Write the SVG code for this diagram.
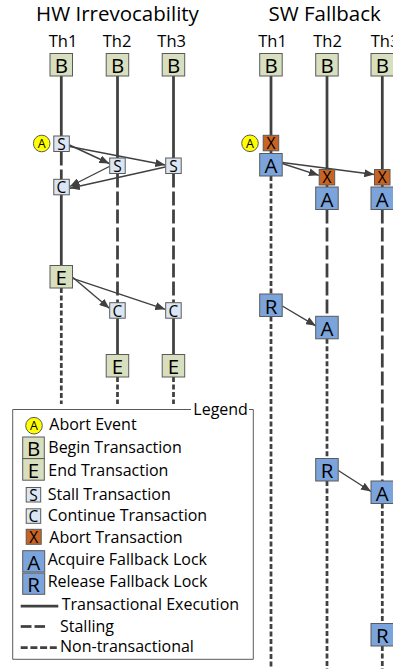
<svg xmlns="http://www.w3.org/2000/svg" width="393" height="669" viewBox="0 0 393 669">
  <defs>
    <marker id="ah" viewBox="0 0 10 8" refX="10" refY="4" markerWidth="10" markerHeight="8" markerUnits="userSpaceOnUse" orient="auto">
      <path d="M0,0 L10,4 L0,8 z" fill="#404040"/>
    </marker>
  </defs>
  <style>
    text { font-family: "Open Sans", "Liberation Sans", sans-serif; fill: #000; }
    .title { font-size: 20.5px; text-anchor: middle; }
    .th { font-size: 16.5px; text-anchor: middle; }
    .big { font-size: 20.5px; text-anchor: middle; }
    .small { font-size: 15.5px; text-anchor: middle; }
    .ev { font-size: 12.5px; text-anchor: middle; }
    .lg { font-size: 16px; }
    .ln { stroke: #404040; stroke-width: 2.75; fill: none; }
    .stall { stroke-dasharray: 14 4; }
    .nontx { stroke-dasharray: 5 2.5; }
    .arr { stroke: #404040; stroke-width: 1.4; fill: none; marker-end: url(#ah); }
    .box { stroke: #5a5a5a; stroke-width: 1; }
    .green { fill: #D7DFBE; }
    .lblue { fill: #DCE6F2; }
    .blue { fill: #7CA4DC; }
    .orange { fill: #C86423; }
    .yel { fill: #FFFF00; stroke: #5a5a5a; stroke-width: 1; }
    .frame { stroke: #5a5a5a; stroke-width: 1; fill: none; }
  </style>

  <!-- headings -->
  <text class="title" x="117.5" y="20.7">HW Irrevocability</text>
  <text class="title" x="324.7" y="20.7">SW Fallback</text>
  <text class="th" x="63" y="46.5">Th1</text>
  <text class="th" x="117" y="46.5">Th2</text>
  <text class="th" x="171.7" y="46.5">Th3</text>
  <text class="th" x="272.5" y="46.5">Th1</text>
  <text class="th" x="327.5" y="46.5">Th2</text>
  <text class="th" x="385" y="46.5">Th3</text>

  <!-- thread timelines -->
  <g id="timelines">
    <!-- HW Th1 -->
    <line class="ln" x1="61.3" y1="76" x2="61.3" y2="136"/>
    <line class="ln stall" x1="61.3" y1="151.5" x2="61.3" y2="179.3"/>
    <line class="ln" x1="61.3" y1="194.8" x2="61.3" y2="265.5"/>
    <line class="ln nontx" x1="61.3" y1="288" x2="61.3" y2="404"/>
    <!-- HW Th2 -->
    <line class="ln" x1="117.5" y1="76" x2="117.5" y2="158"/>
    <line class="ln stall" x1="117.5" y1="173.5" x2="117.5" y2="302.7"/>
    <line class="ln" x1="117.5" y1="318.2" x2="117.5" y2="354.5"/>
    <line class="ln nontx" x1="117.5" y1="377" x2="117.5" y2="404"/>
    <!-- HW Th3 -->
    <line class="ln" x1="173.5" y1="76" x2="173.5" y2="158"/>
    <line class="ln stall" x1="173.5" y1="173.5" x2="173.5" y2="302.7"/>
    <line class="ln" x1="173.5" y1="318.2" x2="173.5" y2="354.5"/>
    <line class="ln nontx" x1="173.5" y1="377" x2="173.5" y2="404"/>
    <!-- SW Th1 -->
    <line class="ln" x1="271" y1="76" x2="271" y2="153.5"/>
    <line class="ln nontx" x1="271" y1="176" x2="271" y2="294"/>
    <line class="ln nontx" x1="271" y1="316.5" x2="271" y2="669"/>
    <!-- SW Th2 -->
    <line class="ln" x1="327" y1="76" x2="327" y2="187"/>
    <line class="ln stall" x1="327" y1="209.5" x2="327" y2="316.3"/>
    <line class="ln nontx" x1="327" y1="338.8" x2="327" y2="458.5"/>
    <line class="ln nontx" x1="327" y1="481" x2="327" y2="669"/>
    <!-- SW Th3 -->
    <line class="ln" x1="382.3" y1="76" x2="382.3" y2="187"/>
    <line class="ln stall" x1="382.3" y1="209.5" x2="382.3" y2="481"/>
    <line class="ln nontx" x1="382.3" y1="503.5" x2="382.3" y2="623.5"/>
    <line class="ln nontx" x1="382.3" y1="646" x2="382.3" y2="669"/>
  </g>

  <!-- message arrows -->
  <g id="connectors">
    <line class="arr" x1="69.5" y1="145" x2="109.3" y2="163.5"/>
    <line class="arr" x1="69.5" y1="146.5" x2="165.3" y2="165"/>
    <line class="arr" x1="109.3" y1="166.5" x2="69.8" y2="186.5"/>
    <line class="arr" x1="165.3" y1="167" x2="69.8" y2="188.3"/>
    <line class="arr" x1="72.6" y1="277.3" x2="109.3" y2="308.3"/>
    <line class="arr" x1="72.6" y1="278.3" x2="165.3" y2="309.3"/>
    <line class="arr" x1="282.3" y1="163.5" x2="318.8" y2="175.3"/>
    <line class="arr" x1="282.3" y1="162.5" x2="374.3" y2="174.5"/>
    <line class="arr" x1="282.3" y1="306" x2="315.8" y2="325.8"/>
    <line class="arr" x1="338.3" y1="470.5" x2="371" y2="491.5"/>
  </g>

  <!-- HW Irrevocability nodes -->
  <g id="hw-b1"><rect class="box green" x="50" y="53.5" width="22.5" height="22.5"/><text class="big" x="61.3" y="73.3">B</text></g>
  <g id="hw-b2"><rect class="box green" x="106.2" y="53.5" width="22.5" height="22.5"/><text class="big" x="117.5" y="73.3">B</text></g>
  <g id="hw-b3"><rect class="box green" x="162.2" y="53.5" width="22.5" height="22.5"/><text class="big" x="173.5" y="73.3">B</text></g>
  <g id="hw-abort"><circle class="yel" cx="41.7" cy="143.5" r="8.3"/><text class="ev" x="41.7" y="148">A</text></g>
  <g id="hw-s1"><rect class="box lblue" x="53.8" y="136" width="15.5" height="15.5"/><text class="small" x="61.5" y="149.8">S</text></g>
  <g id="hw-s2"><rect class="box lblue" x="109.7" y="158" width="15.5" height="15.5"/><text class="small" x="117.5" y="171.8">S</text></g>
  <g id="hw-s3"><rect class="box lblue" x="165.7" y="158" width="15.5" height="15.5"/><text class="small" x="173.5" y="171.8">S</text></g>
  <g id="hw-c1"><rect class="box lblue" x="53.8" y="179.3" width="15.5" height="15.5"/><text class="small" x="61.5" y="193.1">C</text></g>
  <g id="hw-e1"><rect class="box green" x="50" y="265.5" width="22.5" height="22.5"/><text class="big" x="61.3" y="285.3">E</text></g>
  <g id="hw-c2"><rect class="box lblue" x="109.7" y="302.7" width="15.5" height="15.5"/><text class="small" x="117.5" y="316.5">C</text></g>
  <g id="hw-c3"><rect class="box lblue" x="165.7" y="302.7" width="15.5" height="15.5"/><text class="small" x="173.5" y="316.5">C</text></g>
  <g id="hw-e2"><rect class="box green" x="106.2" y="354.5" width="22.5" height="22.5"/><text class="big" x="117.5" y="374.3">E</text></g>
  <g id="hw-e3"><rect class="box green" x="162.2" y="354.5" width="22.5" height="22.5"/><text class="big" x="173.5" y="374.3">E</text></g>

  <!-- SW Fallback nodes -->
  <g id="sw-b1"><rect class="box green" x="259.7" y="53.5" width="22.5" height="22.5"/><text class="big" x="271" y="73.3">B</text></g>
  <g id="sw-b2"><rect class="box green" x="315.7" y="53.5" width="22.5" height="22.5"/><text class="big" x="327" y="73.3">B</text></g>
  <g id="sw-b3"><rect class="box green" x="371" y="53.5" width="22.5" height="22.5"/><text class="big" x="382.3" y="73.3">B</text></g>
  <g id="sw-abort"><circle class="yel" cx="250" cy="143.3" r="8.3"/><text class="ev" x="250" y="147.8">A</text></g>
  <g id="sw-x1"><rect class="box orange" x="263.2" y="135.3" width="15.5" height="15.5"/><text class="small" x="271" y="149.1">X</text></g>
  <g id="sw-a1"><rect class="box blue" x="259.7" y="153.5" width="22.5" height="22.5"/><text class="big" x="271" y="173.3">A</text></g>
  <g id="sw-x2"><rect class="box orange" x="319.2" y="169.5" width="15.5" height="15.5"/><text class="small" x="327" y="183.3">X</text></g>
  <g id="sw-a2"><rect class="box blue" x="315.7" y="187" width="22.5" height="22.5"/><text class="big" x="327" y="206.8">A</text></g>
  <g id="sw-x3"><rect class="box orange" x="374.5" y="169.5" width="15.5" height="15.5"/><text class="small" x="382.3" y="183.3">X</text></g>
  <g id="sw-a3"><rect class="box blue" x="371" y="187" width="22.5" height="22.5"/><text class="big" x="382.3" y="206.8">A</text></g>
  <g id="sw-r1"><rect class="box blue" x="259.7" y="294" width="22.5" height="22.5"/><text class="big" x="271" y="313.8">R</text></g>
  <g id="sw-a2b"><rect class="box blue" x="315.7" y="316.3" width="22.5" height="22.5"/><text class="big" x="327" y="336.1">A</text></g>
  <g id="sw-r2"><rect class="box blue" x="315.7" y="458.5" width="22.5" height="22.5"/><text class="big" x="327" y="478.3">R</text></g>
  <g id="sw-a3b"><rect class="box blue" x="371" y="481" width="22.5" height="22.5"/><text class="big" x="382.3" y="500.8">A</text></g>
  <g id="sw-r3"><rect class="box blue" x="371" y="623.5" width="22.5" height="22.5"/><text class="big" x="382.3" y="643.3">R</text></g>

  <!-- legend -->
  <g id="legend">
    <path class="frame" d="M191,409.5 H12.7 V659.3 H253.3 V409.5 H249"/>
    <text class="lg" x="193.3" y="415">Legend</text>

    <circle class="yel" cx="34" cy="425.7" r="8.3"/><text class="ev" x="34" y="430.2">A</text>
    <text class="lg" x="49.3" y="430">Abort Event</text>

    <rect class="box green" x="22.7" y="437" width="21.6" height="21.6"/><text class="big" x="33.5" y="456.2">B</text>
    <text class="lg" x="48.3" y="453.3">Begin Transaction</text>

    <rect class="box green" x="22.7" y="458.6" width="21.6" height="21.6"/><text class="big" x="33.5" y="477.8">E</text>
    <text class="lg" x="48.3" y="475.7">End Transaction</text>

    <rect class="box lblue" x="26.2" y="487.5" width="14.5" height="14.5"/><text class="small" x="33.5" y="500.5">S</text>
    <text class="lg" x="47.7" y="500">Stall Transaction</text>

    <rect class="box lblue" x="26.2" y="508.8" width="14.5" height="14.5"/><text class="small" x="33.5" y="521.8">C</text>
    <text class="lg" x="47.7" y="521">Continue Transaction</text>

    <rect class="box orange" x="26.2" y="529.3" width="15" height="15"/><text class="small" x="33.7" y="542.7">X</text>
    <text class="lg" x="49.3" y="542.7">Abort Transaction</text>

    <rect class="box blue" x="22.7" y="550.7" width="22" height="21.3"/><text class="big" x="33.7" y="570">A</text>
    <text class="lg" x="47.7" y="565">Acquire Fallback Lock</text>

    <rect class="box blue" x="22.7" y="573" width="22" height="21.3"/><text class="big" x="33.7" y="592.3">R</text>
    <text class="lg" x="47.7" y="586.7">Release Fallback Lock</text>

    <line class="ln" x1="20.7" y1="606" x2="58.3" y2="606"/>
    <text class="lg" x="61.7" y="610">Transactional Execution</text>

    <line class="ln" x1="20.7" y1="626.5" x2="31.5" y2="626.5"/>
    <line class="ln" x1="34.5" y1="626.5" x2="45" y2="626.5"/>
    <text class="lg" x="60" y="631.7">Stalling</text>

    <line class="ln" x1="20.7" y1="647.7" x2="56.8" y2="647.7" stroke-dasharray="7 2.7"/>
    <text class="lg" x="60" y="651.7">Non-transactional</text>
  </g>
</svg>
